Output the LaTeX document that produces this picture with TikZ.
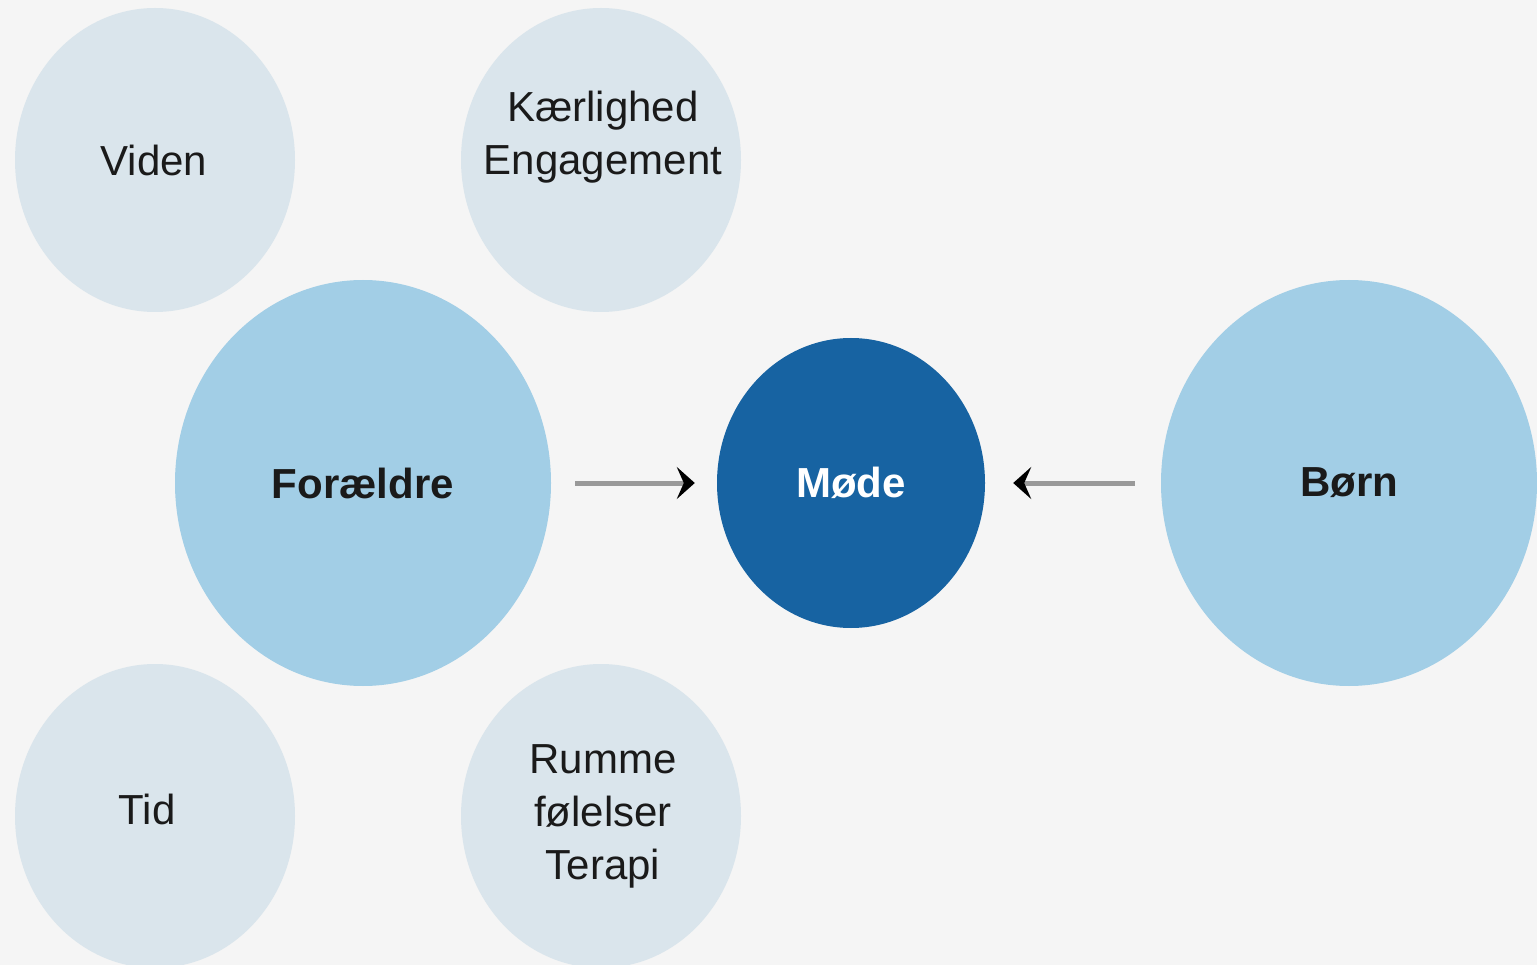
\documentclass[tikz,border=0pt]{standalone}
\usepackage{fontspec}
\setmainfont{Liberation Sans}
\usetikzlibrary{shapes.geometric,arrows.meta}
\definecolor{bgc}{HTML}{F5F5F5}
\definecolor{lightc}{HTML}{DAE5EC}
\definecolor{midc}{HTML}{A2CEE6}
\definecolor{darkc}{HTML}{1763A2}
\definecolor{txtc}{HTML}{1A1A1A}
\definecolor{linec}{HTML}{999999}
\tikzset{
  bubble/.style={ellipse, inner sep=0pt, align=center, text=txtc,
    font=\fontsize{42}{53}\selectfont},
  small/.style={bubble, fill=lightc, minimum width=280pt, minimum height=304pt},
  big/.style={bubble, fill=midc, minimum width=376pt, minimum height=406pt,
    font=\fontsize{42}{53}\selectfont\bfseries},
  core/.style={bubble, fill=darkc, minimum width=268pt, minimum height=290pt,
    text=white, font=\fontsize{42}{53}\selectfont\bfseries},
  label/.style={inner sep=0pt, align=center, text=txtc,
    font=\fontsize{42}{53}\selectfont},
  conn/.style={draw=linec, line width=5pt,
    -{Stealth[length=18pt,width=32pt,inset=7pt,black]}}
}
\begin{document}
\begin{tikzpicture}[x=1pt,y=-1pt]
\fill[bgc] (0,0) rectangle (1537,965);
\useasboundingbox (0,0) rectangle (1537,965);
\clip (0,0) rectangle (1537,965);
\node[small] (viden) at (155,160) {};
\node[label] (videntxt) at (154,160) {Viden};
\node[small] (kaer) at (601,160) {};
\node[label] (kaertxt) at (603,137) {Kærlighed\\Engagement};
\node[big] (foraeldre) at (363,483) {Forældre};
\node[core] (mode) at (851,483) {Møde};
\node[big] (born) at (1349,483) {Børn};
\node[small] (tid) at (155,816) {};
\node[label] (tidtxt) at (147,809) {Tid};
\node[small] (rumme) at (601,816) {};
\node[label] (rummetxt) at (603,816) {Rumme\\følelser\\Terapi};
\draw[conn, shorten <=24pt, shorten >=22pt] (foraeldre) -- (mode);
\draw[conn, shorten <=26pt, shorten >=28pt] (born) -- (mode);
\end{tikzpicture}
\end{document}
